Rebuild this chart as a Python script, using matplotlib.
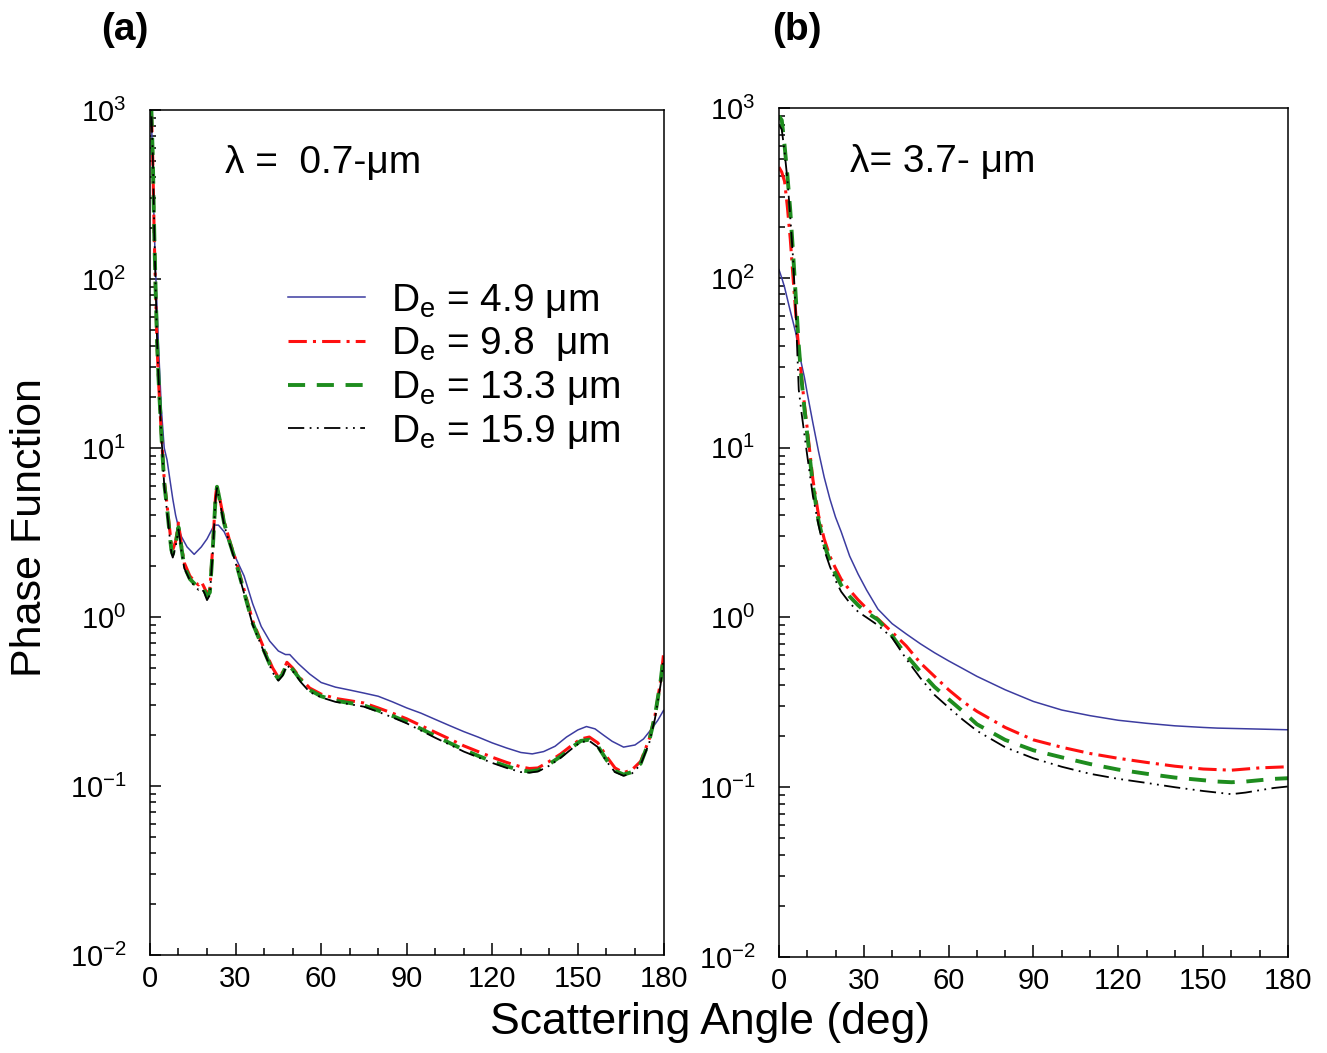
import matplotlib

matplotlib.use("Agg")
import matplotlib.pyplot as plt
from matplotlib.ticker import FixedLocator, LogLocator, NullFormatter, MultipleLocator

plt.rcParams["font.family"] = ["Liberation Sans", "DejaVu Sans"]
plt.rcParams["mathtext.fontset"] = "custom"
plt.rcParams["mathtext.rm"] = "Liberation Sans"
plt.rcParams["mathtext.it"] = "Liberation Sans"

# ---- panel (a): lambda = 0.7 um ----
ang_a_49 = [0, 0.5, 1, 1.5, 2, 3, 4, 5, 6, 7, 8, 9, 10, 11, 13, 15.5, 18, 20, 22.5, 24,
            26, 28, 30, 33, 36, 39, 42, 45, 47.5, 49, 52, 56, 60, 65, 70, 75, 80, 85, 90,
            95, 100, 105, 110, 115, 120, 125, 130, 134, 138, 142, 146, 150, 153, 156,
            159, 162, 166, 170, 173, 176, 178, 180]
pf_a_49 = [1500, 900, 450, 200, 110, 40, 17, 10, 8.5, 6.5, 5, 4.0, 3.4, 3.0, 2.6, 2.35,
           2.6, 2.9, 3.5, 3.5, 3.2, 2.7, 2.25, 1.75, 1.2, 0.88, 0.72, 0.63, 0.6, 0.6,
           0.53, 0.46, 0.41, 0.385, 0.37, 0.355, 0.34, 0.315, 0.29, 0.27, 0.248, 0.228,
           0.21, 0.195, 0.18, 0.168, 0.158, 0.155, 0.16, 0.172, 0.195, 0.215, 0.225,
           0.218, 0.2, 0.184, 0.17, 0.175, 0.19, 0.22, 0.245, 0.28]

ang_a = [0, 0.5, 1, 1.5, 2, 2.5, 3, 4, 5, 6, 7, 7.5, 8, 9, 10, 11, 12, 14, 16, 17, 18, 19,
         20, 21, 22, 23, 23.5, 24.5, 26, 28, 30, 33, 36, 40, 43, 45, 46.5, 48, 50, 53, 56,
         60, 65, 70, 75, 80, 85, 90, 95, 100, 105, 110, 115, 120, 125, 130, 133, 136,
         140, 144, 148, 151, 154, 157, 160, 163, 166, 169, 172, 175, 177, 179, 180]
pf_a_98 = [1500, 1000, 500, 180, 80, 40, 25, 12, 6.5, 4.6, 3.2, 2.7, 2.5, 2.8, 3.6, 2.7,
           2.1, 1.75, 1.6, 1.55, 1.62, 1.5, 1.38, 1.45, 2.6, 5.2, 6.0, 5.0, 3.7, 2.8, 2.2,
           1.45, 0.95, 0.65, 0.5, 0.44, 0.47, 0.54, 0.5, 0.43, 0.38, 0.35, 0.33, 0.32,
           0.31, 0.29, 0.27, 0.25, 0.228, 0.208, 0.19, 0.173, 0.16, 0.148, 0.138, 0.13,
           0.127, 0.128, 0.14, 0.155, 0.175, 0.19, 0.195, 0.18, 0.15, 0.128, 0.12, 0.125,
           0.14, 0.19, 0.26, 0.42, 0.6]
pf_a_133 = [1500, 1000, 520, 190, 85, 42, 26, 12, 6.2, 4.4, 3.0, 2.5, 2.35, 2.7, 3.4, 2.6,
            2.0, 1.68, 1.55, 1.5, 1.52, 1.45, 1.32, 1.4, 2.5, 5.1, 5.9, 4.9, 3.6, 2.75,
            2.15, 1.4, 0.92, 0.63, 0.48, 0.43, 0.46, 0.53, 0.49, 0.42, 0.37, 0.34, 0.32,
            0.31, 0.3, 0.28, 0.26, 0.24, 0.218, 0.198, 0.18, 0.164, 0.151, 0.14, 0.131,
            0.124, 0.122, 0.124, 0.135, 0.15, 0.17, 0.185, 0.188, 0.172, 0.143, 0.123,
            0.117, 0.121, 0.136, 0.185, 0.26, 0.42, 0.58]
pf_a_159 = [1500, 1000, 540, 200, 88, 43, 26, 12, 6.0, 4.2, 2.9, 2.4, 2.25, 2.6, 3.3, 2.5,
            1.95, 1.65, 1.5, 1.45, 1.48, 1.4, 1.26, 1.35, 2.4, 5.0, 5.8, 4.8, 3.5, 2.7,
            2.1, 1.38, 0.9, 0.62, 0.47, 0.42, 0.45, 0.52, 0.48, 0.41, 0.36, 0.335, 0.315,
            0.305, 0.295, 0.275, 0.255, 0.235, 0.213, 0.193, 0.176, 0.16, 0.148, 0.137,
            0.128, 0.121, 0.12, 0.122, 0.132, 0.147, 0.167, 0.182, 0.185, 0.17, 0.14,
            0.121, 0.115, 0.119, 0.134, 0.18, 0.25, 0.4, 0.56]

# ---- panel (b): lambda = 3.7 um ----
ang_b = [0, 1, 2, 3, 4, 5, 6, 7, 8, 9, 10, 12, 14, 16, 18, 20, 22, 25, 28, 31, 35, 40, 45,
         50, 55, 60, 65, 70, 80, 90, 100, 110, 120, 130, 140, 150, 155, 160, 165, 170,
         175, 180]
pf_b_49 = [112, 100, 88, 75, 64, 55, 47, 37, 31, 26, 21, 14, 9.5, 6.7, 5.0, 3.9, 3.2,
           2.3, 1.8, 1.45, 1.12, 0.92, 0.8, 0.7, 0.62, 0.555, 0.5, 0.45, 0.375, 0.32,
           0.285, 0.264, 0.248, 0.238, 0.23, 0.225, 0.223, 0.222, 0.221, 0.22, 0.219,
           0.218]
pf_b_98 = [450, 420, 370, 260, 170, 100, 60, 38, 26, 18, 13, 6.5, 4.0, 2.9, 2.3, 1.95,
           1.68, 1.45, 1.27, 1.13, 0.98, 0.82, 0.68, 0.54, 0.45, 0.375, 0.32, 0.28,
           0.225, 0.19, 0.172, 0.158, 0.148, 0.14, 0.133, 0.128, 0.127, 0.126, 0.128,
           0.13, 0.131, 0.132]
pf_b_133 = [900, 850, 600, 400, 250, 140, 75, 40, 25, 17, 12, 6.0, 3.7, 2.7, 2.15, 1.8,
            1.55, 1.33, 1.18, 1.07, 0.97, 0.78, 0.6, 0.48, 0.39, 0.33, 0.28, 0.235,
            0.19, 0.165, 0.15, 0.137, 0.127, 0.12, 0.114, 0.11, 0.108, 0.107, 0.108, 0.11,
            0.112, 0.113]
pf_b_159 = [800, 750, 550, 380, 230, 130, 60, 22, 16, 12, 9, 5.2, 3.5, 2.5, 2.0, 1.65,
            1.42, 1.22, 1.08, 1.0, 0.9, 0.76, 0.57, 0.44, 0.35, 0.295, 0.25, 0.215,
            0.172, 0.148, 0.132, 0.12, 0.112, 0.106, 0.1, 0.095, 0.093, 0.091, 0.093,
            0.096, 0.099, 0.101]

labels = ["D$_\\mathdefault{e}$ = 4.9 \u03bcm", "D$_\\mathdefault{e}$ = 9.8  \u03bcm",
          "D$_\\mathdefault{e}$ = 13.3 \u03bcm", "D$_\\mathdefault{e}$ = 15.9 \u03bcm"]
ytick_vals = [1e-2, 1e-1, 1e0, 1e1, 1e2, 1e3]
ytick_labels = ["$\\mathdefault{10^{-2}}$", "$\\mathdefault{10^{-1}}$",
                "$\\mathdefault{10^{0}}$", "$\\mathdefault{10^{1}}$",
                "$\\mathdefault{10^{2}}$", "$\\mathdefault{10^{3}}$"]

styles = [
    dict(color="#3c3ca0", lw=1.1, ls="-"),
    dict(color="#ff1010", lw=2.2, dashes=(6, 2, 1, 2)),
    dict(color="#1e8c1e", lw=2.8, dashes=(4.4, 3)),
    dict(color="black", lw=1.3, dashes=(9, 3, 1, 3, 1, 3)),
]


def style_axes(ax):
    ax.set_yscale("log")
    ax.set_xlim(0, 180)
    ax.set_ylim(1e-2, 1e3)
    ax.xaxis.set_major_locator(MultipleLocator(30))
    ax.xaxis.set_minor_locator(MultipleLocator(10))
    ax.yaxis.set_major_locator(FixedLocator(ytick_vals))
    ax.set_yticklabels(ytick_labels)
    ax.yaxis.set_minor_locator(LogLocator(base=10, subs=range(2, 10)))
    ax.yaxis.set_minor_formatter(NullFormatter())
    ax.tick_params(which="both", direction="in", top=False, right=False, width=1.1,
                   labelsize=21)
    ax.tick_params(axis="x", which="major", length=9, pad=7)
    ax.tick_params(axis="x", which="minor", length=5)
    ax.tick_params(axis="y", which="major", length=8, pad=17)
    ax.tick_params(axis="y", which="minor", length=4.5)
    for sp in ax.spines.values():
        sp.set_linewidth(1.1)


fig = plt.figure(figsize=(13.27, 10.53), dpi=100)
ax_a = fig.add_axes([0.113, 0.093, 0.387, 0.8025])
ax_b = fig.add_axes([0.587, 0.0912, 0.3836, 0.806])

series_a = [(ang_a_49, pf_a_49), (ang_a, pf_a_98), (ang_a, pf_a_133), (ang_a, pf_a_159)]
series_b = [(ang_b, pf_b_49), (ang_b, pf_b_98), (ang_b, pf_b_133), (ang_b, pf_b_159)]

for (x, y), st, lab in zip(series_a, styles, labels):
    ax_a.plot(x, y, label=lab, **st)
for (x, y), st in zip(series_b, styles):
    ax_b.plot(x, y, **st)

style_axes(ax_a)
style_axes(ax_b)

ax_a.legend(loc="upper left", bbox_to_anchor=(0.268, 0.797), frameon=False, fontsize=28,
            handlelength=1.98, handletextpad=0.69, labelspacing=0.15, borderpad=0,
            borderaxespad=0)

ax_a.text(0.146, 0.937, "\u03bb =  0.7-\u03bcm", transform=ax_a.transAxes, fontsize=28,
          ha="left", va="center")
ax_b.text(0.14, 0.937, "\u03bb= 3.7- \u03bcm", transform=ax_b.transAxes, fontsize=28,
          ha="left", va="center")

fig.text(0.094, 0.9715, "(a)", fontsize=28, fontweight="bold", ha="center", va="center")
fig.text(0.6006, 0.9715, "(b)", fontsize=28, fontweight="bold", ha="center", va="center")
fig.text(0.0226, 0.4986, "Phase Function", rotation=90, fontsize=31, ha="center",
         va="center")
fig.text(0.535, 0.0294, "Scattering Angle (deg)", fontsize=32, ha="center", va="center")

fig.savefig("out.png", dpi=100)
